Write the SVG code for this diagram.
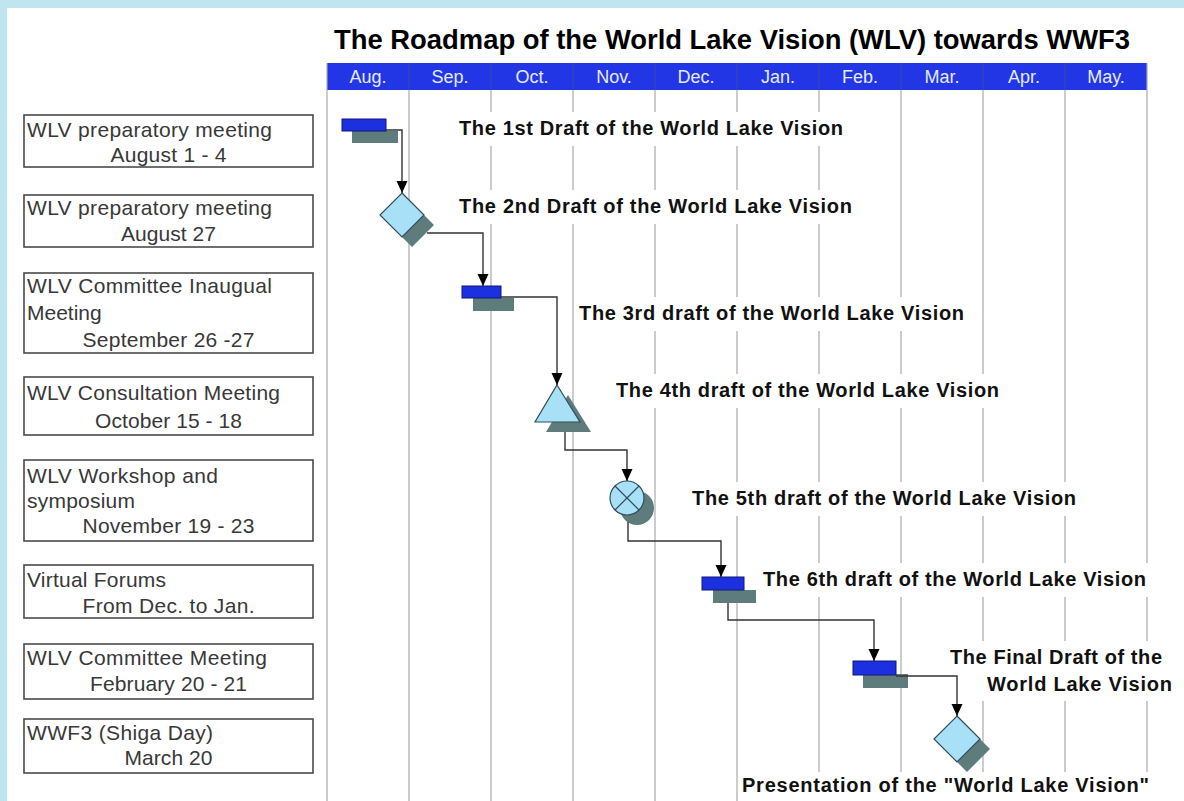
<svg xmlns="http://www.w3.org/2000/svg" width="1184" height="801" viewBox="0 0 1184 801">
<style>
.frame{fill:#bfe5f1}
.title{font-family:"Liberation Sans",Arial,sans-serif;font-weight:bold;font-size:27px;fill:#000}
.month{font-family:"Liberation Sans",Arial,sans-serif;font-size:18px;fill:#e4ebff;text-anchor:middle}
.grid{stroke:#aaaaaa;stroke-width:1.2;fill:none}
.hdiv{stroke:#3846a8;stroke-width:1}
.box{fill:#fff;stroke:#4a4a4a;stroke-width:1.6}
.bt{font-family:"Liberation Sans",Arial,sans-serif;font-size:21px;fill:#383838}
.btc{font-family:"Liberation Sans",Arial,sans-serif;font-size:21px;fill:#383838;text-anchor:middle}
.lbl{font-family:"Liberation Sans",Arial,sans-serif;font-weight:bold;font-size:20px;fill:#111}
.lblbg{fill:#fff}
.bar{fill:#1d30e0;stroke:#10187a;stroke-width:1}
.shd{fill:#5f7c7c}
.lb{fill:#a8e1f7;stroke:#2f4d5a;stroke-width:1.2}
.conn{fill:none;stroke:#333;stroke-width:1.4;marker-end:url(#ah)}
</style>
<defs>
<marker id="ah" markerWidth="12" markerHeight="12" refX="12" refY="6" orient="auto" markerUnits="userSpaceOnUse">
<path d="M0,0.5 L12,6 L0,11.5 z" fill="#000"/>
</marker>
</defs>
<rect width="1184" height="801" fill="#fff"/>
<rect class="frame" x="0" y="0" width="1184" height="8"/>
<rect class="frame" x="0" y="0" width="7" height="801"/>

<text class="title" x="334" y="49" textLength="796" lengthAdjust="spacingAndGlyphs">The Roadmap of the World Lake Vision (WLV) towards WWF3</text>

<g id="timeline-header">
<rect x="327" y="63" width="820" height="27" fill="#2236e6"/>
<g class="hdiv">
<line x1="409" y1="63" x2="409" y2="90"/><line x1="491" y1="63" x2="491" y2="90"/><line x1="573" y1="63" x2="573" y2="90"/><line x1="655" y1="63" x2="655" y2="90"/><line x1="737" y1="63" x2="737" y2="90"/><line x1="819" y1="63" x2="819" y2="90"/><line x1="901" y1="63" x2="901" y2="90"/><line x1="983" y1="63" x2="983" y2="90"/><line x1="1065" y1="63" x2="1065" y2="90"/>
</g>
<text class="month" x="368" y="83">Aug.</text>
<text class="month" x="450" y="83">Sep.</text>
<text class="month" x="532" y="83">Oct.</text>
<text class="month" x="614" y="83">Nov.</text>
<text class="month" x="696" y="83">Dec.</text>
<text class="month" x="778" y="83">Jan.</text>
<text class="month" x="860" y="83">Feb.</text>
<text class="month" x="942" y="83">Mar.</text>
<text class="month" x="1024" y="83">Apr.</text>
<text class="month" x="1106" y="83">May.</text>
</g>

<g id="grid" class="grid">
<line x1="327" y1="63" x2="327" y2="801"/>
<line x1="409" y1="90" x2="409" y2="801"/>
<line x1="491" y1="90" x2="491" y2="801"/>
<line x1="573" y1="90" x2="573" y2="801"/>
<line x1="655" y1="90" x2="655" y2="801"/>
<line x1="737" y1="90" x2="737" y2="801"/>
<line x1="819" y1="90" x2="819" y2="801"/>
<line x1="901" y1="90" x2="901" y2="801"/>
<line x1="983" y1="90" x2="983" y2="801"/>
<line x1="1065" y1="90" x2="1065" y2="801"/>
<line x1="1147" y1="63" x2="1147" y2="801"/>
</g>

<g id="event-1">
<rect class="box" x="24" y="115" width="289" height="52"/>
<text class="bt" x="27" y="137" textLength="245">WLV preparatory meeting</text>
<text class="btc" x="168.5" y="162" textLength="116">August 1 - 4</text>
</g>
<g id="event-2">
<rect class="box" x="24" y="195" width="289" height="52"/>
<text class="bt" x="27" y="215" textLength="245">WLV preparatory meeting</text>
<text class="btc" x="168.5" y="241" textLength="95">August 27</text>
</g>
<g id="event-3">
<rect class="box" x="24" y="273" width="289" height="80"/>
<text class="bt" x="27" y="293" textLength="245">WLV Committee Inaugual</text>
<text class="bt" x="27" y="320">Meeting</text>
<text class="btc" x="168.5" y="347" textLength="172">September 26 -27</text>
</g>
<g id="event-4">
<rect class="box" x="24" y="377" width="289" height="58"/>
<text class="bt" x="27" y="400" textLength="253">WLV Consultation Meeting</text>
<text class="btc" x="168.5" y="428" textLength="147">October 15 - 18</text>
</g>
<g id="event-5">
<rect class="box" x="24" y="460" width="289" height="81"/>
<text class="bt" x="27" y="483" textLength="191">WLV Workshop and</text>
<text class="bt" x="27" y="508" textLength="108">symposium</text>
<text class="btc" x="168.5" y="533" textLength="172">November 19 - 23</text>
</g>
<g id="event-6">
<rect class="box" x="24" y="565" width="289" height="53"/>
<text class="bt" x="27" y="587" textLength="139">Virtual Forums</text>
<text class="btc" x="168.5" y="613" textLength="172">From Dec. to Jan.</text>
</g>
<g id="event-7">
<rect class="box" x="24" y="644" width="289" height="55"/>
<text class="bt" x="27" y="665" textLength="240">WLV Committee Meeting</text>
<text class="btc" x="168.5" y="691" textLength="157">February 20 - 21</text>
</g>
<g id="event-8">
<rect class="box" x="24" y="719" width="289" height="54"/>
<text class="bt" x="27" y="740" textLength="186">WWF3 (Shiga Day)</text>
<text class="btc" x="168.5" y="765" textLength="88">March 20</text>
</g>

<g id="draft-1">
<rect class="shd" x="352" y="131" width="46" height="12"/>
<rect class="bar" x="342" y="119" width="44" height="12"/>
<rect class="lblbg" x="455" y="112" width="392" height="34"/>
<text class="lbl" x="459" y="135" textLength="384">The 1st Draft of the World Lake Vision</text>
</g>
<g id="draft-2">
<path class="shd" d="M412,203 L434,225 L412,247 L390,225 z"/>
<path class="lb" d="M402,193 L424,215 L402,237 L380,215 z"/>
<rect class="lblbg" x="455" y="190" width="401" height="34"/>
<text class="lbl" x="459" y="213" textLength="393">The 2nd Draft of the World Lake Vision</text>
</g>
<g id="draft-3">
<rect class="shd" x="473" y="298" width="41" height="13"/>
<rect class="bar" x="462" y="286" width="39" height="12"/>
<rect class="lblbg" x="575" y="297" width="393" height="34"/>
<text class="lbl" x="579" y="320" textLength="385">The 3rd draft of the World Lake Vision</text>
</g>
<g id="draft-4">
<path class="shd" d="M568,395 L591,432 L546,432 z"/>
<path class="lb" d="M557,385 L580,422 L535,422 z"/>
<rect class="lblbg" x="612" y="374" width="391" height="34"/>
<text class="lbl" x="616" y="397" textLength="383">The 4th draft of the World Lake Vision</text>
</g>
<g id="draft-5">
<circle class="shd" cx="637" cy="508" r="17"/>
<circle class="lb" cx="627" cy="498" r="17"/>
<path d="M615,486 L639,510 M639,486 L615,510" stroke="#2f4d5a" stroke-width="1.2"/>
<rect class="lblbg" x="688" y="482" width="392" height="34"/>
<text class="lbl" x="692" y="505" textLength="384">The 5th draft of the World Lake Vision</text>
</g>
<g id="draft-6">
<rect class="shd" x="713" y="590" width="43" height="13"/>
<rect class="bar" x="702" y="577" width="42" height="13"/>
<rect class="lblbg" x="759" y="563" width="391" height="34"/>
<text class="lbl" x="763" y="586" textLength="383">The 6th draft of the World Lake Vision</text>
</g>
<g id="draft-final">
<rect class="shd" x="863" y="674" width="45" height="14"/>
<rect class="bar" x="853" y="661" width="43" height="14"/>
<rect class="lblbg" x="946" y="641" width="230" height="60"/>
<text class="lbl" x="950" y="664" textLength="212">The Final Draft of the</text>
<text class="lbl" x="987" y="691" textLength="185">World Lake Vision</text>
</g>
<g id="presentation">
<path class="shd" d="M967,726 L990,749 L967,772 L944,749 z"/>
<path class="lb" d="M957,716 L980,739 L957,762 L934,739 z"/>
<rect class="lblbg" x="738" y="772" width="415" height="29"/>
<text class="lbl" x="742" y="792" textLength="407">Presentation of the "World Lake Vision"</text>
</g>

<g id="connectors">
<path class="conn" d="M386,130 H402 V193"/>
<path class="conn" d="M427,233 H483 V286"/>
<path class="conn" d="M501,297 H557 V385"/>
<path class="conn" d="M565,432 V450 H627 V481"/>
<path class="conn" d="M628,522 V541 H721 V577"/>
<path class="conn" d="M728,603 V620 H874 V661"/>
<path class="conn" d="M896,676 H957 V716"/>
</g>
</svg>
